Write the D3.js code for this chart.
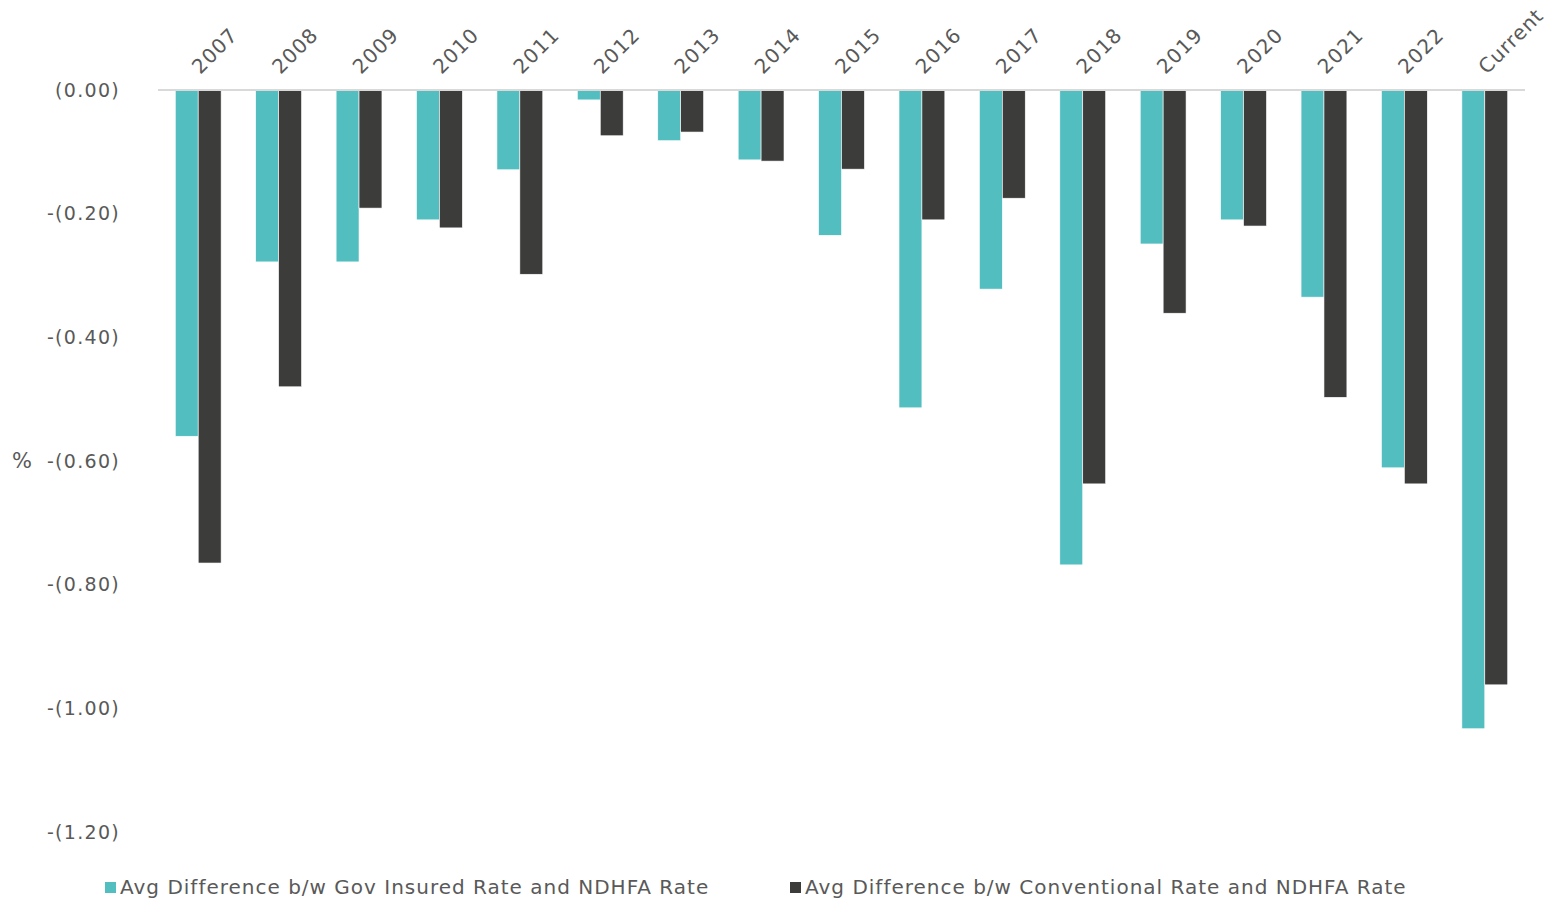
<!DOCTYPE html>
<html>
<head>
<meta charset="utf-8">
<script src="https://cdn.jsdelivr.net/npm/d3@7"></script>
<style>
  html, body { margin: 0; padding: 0; background: #fff; }
  svg { display: block; font-family: "DejaVu Sans", "Open Sans", sans-serif; }
</style>
</head>
<body>
<svg id="chart" width="1554" height="898"></svg>
<script>
// Rate differences (percentage points) relative to the NDHFA rate
const categories = ["2007","2008","2009","2010","2011","2012","2013","2014","2015","2016","2017","2018","2019","2020","2021","2022","Current"];
const govInsured   = [-0.56,-0.278,-0.278,-0.21,-0.129,-0.016,-0.082,-0.113,-0.235,-0.514,-0.322,-0.768,-0.249,-0.21,-0.335,-0.611,-1.033];
const conventional = [-0.765,-0.48,-0.191,-0.223,-0.298,-0.074,-0.068,-0.115,-0.128,-0.21,-0.175,-0.637,-0.361,-0.22,-0.497,-0.637,-0.962];
const seriesNames = ["Avg Difference b/w Gov Insured Rate and NDHFA Rate", "Avg Difference b/w Conventional Rate and NDHFA Rate"];
const tickValues = [0, -0.2, -0.4, -0.6, -0.8, -1.0, -1.2];

const colors = ["#52bec0", "#3c3c3b"];
const textColor = "#595959";

const svg = d3.select("#chart");
const margin = { left: 158, right: 1525, top: 90, bottom: 832 };

const x = d3.scaleBand().domain(categories).range([margin.left, margin.right]).paddingInner(0.43).paddingOuter(0.215);
const y = d3.scaleLinear().domain([0, -1.2]).range([margin.top, margin.bottom]);

const fmt = v => (v === 0 ? "(0.00)" : "-(" + Math.abs(v).toFixed(2) + ")");

// y tick labels
svg.append("g").selectAll("text").data(tickValues).join("text")
  .attr("x", 120).attr("y", d => y(d)).attr("dy", "0.35em")
  .attr("text-anchor", "end").attr("fill", textColor)
  .attr("font-size", 19).attr("letter-spacing", 1.3).text(fmt);

// axis title
svg.append("text").attr("x", 22).attr("y", y(-0.6)).attr("dy", "0.35em")
  .attr("text-anchor", "middle").attr("fill", textColor).attr("font-size", 21).text("%");

// bars
const rows = categories.map((c, i) => ({ c, vals: [govInsured[i], conventional[i]] }));
const xs = d3.scaleBand().domain([0, 1]).range([0, x.bandwidth()]);
const g = svg.append("g").selectAll("g").data(rows).join("g")
  .attr("transform", d => `translate(${x(d.c)},0)`);
g.selectAll("rect").data(d => d.vals.map((v, k) => ({ v, k }))).join("rect")
  .attr("x", d => xs(d.k)).attr("width", xs.bandwidth())
  .attr("y", y(0)).attr("height", d => y(d.v) - y(0))
  .attr("fill", d => colors[d.k])
  .attr("stroke", "#ffffff").attr("stroke-width", 0.6);

// zero line
svg.append("line").attr("x1", margin.left).attr("x2", margin.right)
  .attr("y1", y(0)).attr("y2", y(0)).attr("stroke", "#d9d9d9").attr("stroke-width", 2);

// category labels, rotated
svg.append("g").selectAll("text").data(categories).join("text")
  .attr("transform", d => `translate(${x(d) + x.bandwidth() / 2 + 2},75) rotate(-45)`)
  .attr("fill", textColor).attr("font-size", 20).attr("letter-spacing", 1).text(d => d);

// legend
const legendX = [105, 790];
const lg = svg.append("g").selectAll("g").data(seriesNames).join("g")
  .attr("transform", (d, i) => `translate(${legendX[i]},887)`);
lg.append("rect").attr("x", 0).attr("y", -5).attr("width", 11).attr("height", 11)
  .attr("fill", (d, i) => colors[i]);
lg.append("text").attr("x", 15).attr("dy", "0.35em").attr("fill", textColor)
  .attr("font-size", 20).attr("letter-spacing", 1).text(d => d);
</script>
</body>
</html>
